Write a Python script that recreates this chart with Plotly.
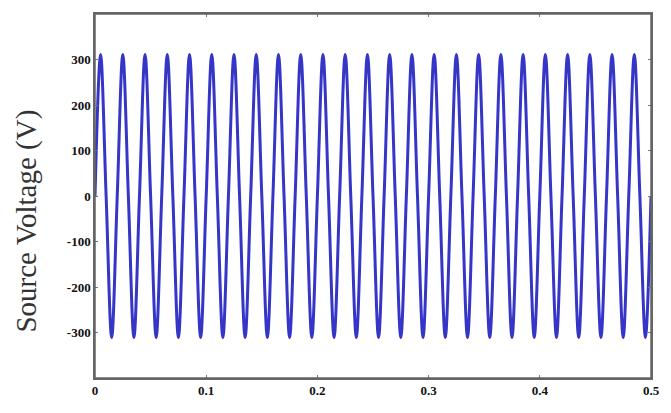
import plotly.graph_objects as go

# Sample times (s): zero crossings, positive peaks, negative peaks
zero_times = [0.00, 0.01, 0.02, 0.03, 0.04, 0.05, 0.06, 0.07, 0.08, 0.09,
              0.10, 0.11, 0.12, 0.13, 0.14, 0.15, 0.16, 0.17, 0.18, 0.19,
              0.20, 0.21, 0.22, 0.23, 0.24, 0.25, 0.26, 0.27, 0.28, 0.29,
              0.30, 0.31, 0.32, 0.33, 0.34, 0.35, 0.36, 0.37, 0.38, 0.39,
              0.40, 0.41, 0.42, 0.43, 0.44, 0.45, 0.46, 0.47, 0.48, 0.49, 0.50]
zero_volts = [0] * len(zero_times)

peak_times = [0.005, 0.025, 0.045, 0.065, 0.085, 0.105, 0.125, 0.145, 0.165, 0.185,
              0.205, 0.225, 0.245, 0.265, 0.285, 0.305, 0.325, 0.345, 0.365, 0.385,
              0.405, 0.425, 0.445, 0.465, 0.485]
peak_volts = [311, 311, 311, 311, 311, 311, 311, 311, 311, 311,
              311, 311, 311, 311, 311, 311, 311, 311, 311, 311,
              311, 311, 311, 311, 311]

trough_times = [0.015, 0.035, 0.055, 0.075, 0.095, 0.115, 0.135, 0.155, 0.175, 0.195,
                0.215, 0.235, 0.255, 0.275, 0.295, 0.315, 0.335, 0.355, 0.375, 0.395,
                0.415, 0.435, 0.455, 0.475, 0.495]
trough_volts = [-311, -311, -311, -311, -311, -311, -311, -311, -311, -311,
                -311, -311, -311, -311, -311, -311, -311, -311, -311, -311,
                -311, -311, -311, -311, -311]

x_ticks = [0, 0.1, 0.2, 0.3, 0.4, 0.5]
x_tick_labels = ["0", "0.1", "0.2", "0.3", "0.4", "0.5"]
y_ticks = [-300, -200, -100, 0, 100, 200, 300]
y_tick_labels = ["-300", "-200", "-100", "0", "100", "200", "300"]
y_title = "Source Voltage (V)"

pts = sorted(zip(zero_times + peak_times + trough_times,
                 zero_volts + peak_volts + trough_volts))
t = [p[0] for p in pts]
v = [p[1] for p in pts]

fig = go.Figure()
fig.add_trace(go.Scatter(x=t, y=v, mode="lines",
                         line=dict(color="#3535c8", width=3, shape="spline", smoothing=1.0),
                         showlegend=False))

axis_common = dict(showgrid=False, zeroline=False, showline=True, linecolor="#666666",
                   linewidth=1.5, mirror="ticks", ticks="inside", ticklen=3,
                   tickcolor="#777777", ticklabeloverflow="allow",
                   tickfont=dict(family="Liberation Serif", size=13, color="#111111", weight="bold"))

fig.update_layout(
    width=655, height=397,
    margin=dict(l=87, r=3, t=6, b=27),
    paper_bgcolor="white", plot_bgcolor="white",
    xaxis=dict(range=[0, 0.5], tickvals=x_ticks, ticktext=x_tick_labels, **axis_common),
    yaxis=dict(range=[-400, 400], tickvals=y_ticks, ticktext=y_tick_labels, **axis_common),
)
# y-axis title placed as a rotated annotation (slightly below plot centre, as in the reference)
fig.add_annotation(text=y_title, xref="paper", yref="paper", x=-0.124, y=0.43,
                   textangle=-90, showarrow=False, xanchor="center", yanchor="middle",
                   font=dict(family="Liberation Serif", size=29, color="#333333"))
# frame drawn on top so the right edge is always visible
fig.add_shape(type="rect", xref="paper", yref="paper", x0=0, y0=0, x1=1, y1=1,
              line=dict(color="#666666", width=1.5), layer="above")

fig.write_html("out.html")
